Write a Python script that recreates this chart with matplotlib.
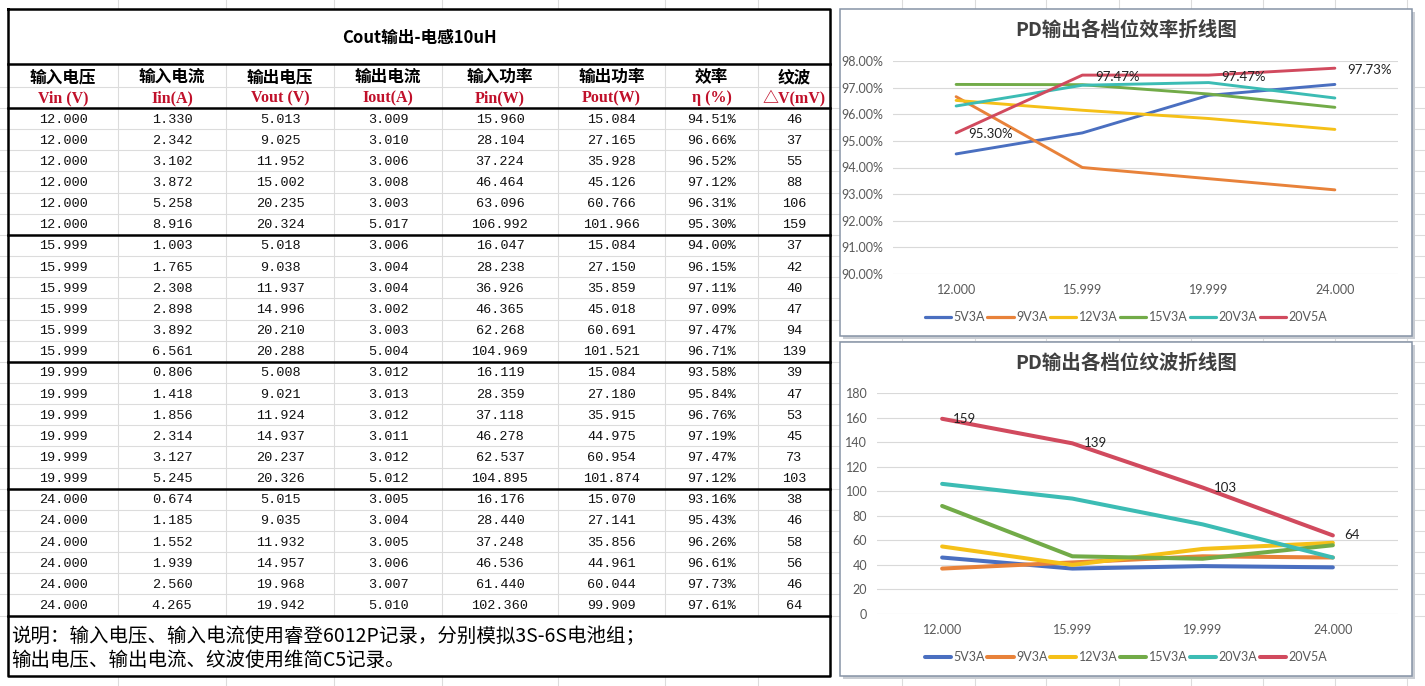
import matplotlib
matplotlib.use("Agg")
import matplotlib.pyplot as plt
from matplotlib.patches import Rectangle

plt.rcParams["font.family"] = ["Noto Sans CJK SC", "DejaVu Sans"]

# ---- table data ----
title = "Cout输出-电感10uH"
head_cn = ["输入电压", "输入电流", "输出电压", "输出电流", "输入功率", "输出功率", "效率", "纹波"]
head_en = ["Vin (V)", "Iin(A)", "Vout (V)", "Iout(A)", "Pin(W)", "Pout(W)", "η (%)", "△V(mV)"]

vin = [12.000, 12.000, 12.000, 12.000, 12.000, 12.000,
       15.999, 15.999, 15.999, 15.999, 15.999, 15.999,
       19.999, 19.999, 19.999, 19.999, 19.999, 19.999,
       24.000, 24.000, 24.000, 24.000, 24.000, 24.000]
iin = [1.330, 2.342, 3.102, 3.872, 5.258, 8.916,
       1.003, 1.765, 2.308, 2.898, 3.892, 6.561,
       0.806, 1.418, 1.856, 2.314, 3.127, 5.245,
       0.674, 1.185, 1.552, 1.939, 2.560, 4.265]
vout = [5.013, 9.025, 11.952, 15.002, 20.235, 20.324,
        5.018, 9.038, 11.937, 14.996, 20.210, 20.288,
        5.008, 9.021, 11.924, 14.937, 20.237, 20.326,
        5.015, 9.035, 11.932, 14.957, 19.968, 19.942]
iout = [3.009, 3.010, 3.006, 3.008, 3.003, 5.017,
        3.006, 3.004, 3.004, 3.002, 3.003, 5.004,
        3.012, 3.013, 3.012, 3.011, 3.012, 5.012,
        3.005, 3.004, 3.005, 3.006, 3.007, 5.010]
pin = [15.960, 28.104, 37.224, 46.464, 63.096, 106.992,
       16.047, 28.238, 36.926, 46.365, 62.268, 104.969,
       16.119, 28.359, 37.118, 46.278, 62.537, 104.895,
       16.176, 28.440, 37.248, 46.536, 61.440, 102.360]
pout = [15.084, 27.165, 35.928, 45.126, 60.766, 101.966,
        15.084, 27.150, 35.859, 45.018, 60.691, 101.521,
        15.084, 27.180, 35.915, 44.975, 60.954, 101.874,
        15.070, 27.141, 35.856, 44.961, 60.044, 99.909]
eff = [94.51, 96.66, 96.52, 97.12, 96.31, 95.30,
       94.00, 96.15, 97.11, 97.09, 97.47, 96.71,
       93.58, 95.84, 96.76, 97.19, 97.47, 97.12,
       93.16, 95.43, 96.26, 96.61, 97.73, 97.61]
ripple = [46, 37, 55, 88, 106, 159,
          37, 42, 40, 47, 94, 139,
          39, 47, 53, 45, 73, 103,
          38, 46, 58, 56, 46, 64]
note = ["说明：输入电压、输入电流使用睿登6012P记录，分别模拟3S-6S电池组；",
        "输出电压、输出电流、纹波使用维简C5记录。"]

# ---- chart data (as plotted) ----
categories = ["12.000", "15.999", "19.999", "24.000"]
series_names = ["5V3A", "9V3A", "12V3A", "15V3A", "20V3A", "20V5A"]
eff_series = [
    [94.51, 95.30, 96.71, 97.12],
    [96.66, 94.00, 93.58, 93.16],
    [96.52, 96.15, 95.84, 95.43],
    [97.12, 97.11, 96.76, 96.26],
    [96.31, 97.09, 97.19, 96.61],
    [95.30, 97.47, 97.47, 97.73],
]
ripple_series = [
    [46, 37, 39, 38],
    [37, 42, 47, 46],
    [55, 40, 53, 58],
    [88, 47, 45, 56],
    [106, 94, 73, 46],
    [159, 139, 103, 64],
]
colors = ["#4a6fc0", "#e8823a", "#f5c018", "#72ab48", "#3cbcb4", "#d14a5e"]

W, H = 1425, 686
fig = plt.figure(figsize=(W / 100, H / 100), dpi=100)
bg = fig.add_axes([0, 0, 1, 1])
bg.set_xlim(0, W)
bg.set_ylim(H, 0)
bg.axis("off")

# table geometry (pixels)
col_edges = [8, 118, 226, 334, 442, 558, 665, 758, 830]
top, title_bot, head_bot = 9, 64, 108
row_h = 21.15
n_rows = len(vin)
table_bot = head_bot + n_rows * row_h
note_bot = 676
grid_c = "#dcdcdc"

# spreadsheet grid behind everything
for i in range(n_rows + 1):
    y = head_bot + i * row_h
    bg.plot([0, W], [y, y], color=grid_c, lw=0.8, zorder=0)
bg.plot([0, W], [87, 87], color=grid_c, lw=0.8, zorder=0)
for x in col_edges[1:-1]:
    bg.plot([x, x], [0, top], color=grid_c, lw=0.8, zorder=0)
    bg.plot([x, x], [title_bot, table_bot], color=grid_c, lw=0.8, zorder=0)
    bg.plot([x, x], [note_bot, H], color=grid_c, lw=0.8, zorder=0)
for x in [902, 975, 1046, 1119, 1191, 1263, 1335, 1407]:
    bg.plot([x, x], [0, H], color=grid_c, lw=0.8, zorder=0)
# white out merged title and note cells
bg.add_patch(Rectangle((col_edges[0], top), col_edges[-1] - col_edges[0], title_bot - top,
                       facecolor="white", edgecolor="none", zorder=0.5))
bg.add_patch(Rectangle((col_edges[0], table_bot), col_edges[-1] - col_edges[0], note_bot - table_bot,
                       facecolor="white", edgecolor="none", zorder=0.5))

# heavy borders
bk = dict(color="black", lw=1.8, zorder=3, solid_capstyle="projecting")
bg.plot([col_edges[0], col_edges[-1], col_edges[-1], col_edges[0], col_edges[0]],
        [top, top, note_bot, note_bot, top], **bk)
for y in [title_bot, head_bot] + [head_bot + g * 6 * row_h for g in range(1, 5)]:
    bg.plot([col_edges[0], col_edges[-1]], [y, y], **bk)

# title + headers
bg.text((col_edges[0] + col_edges[-1]) / 2, 38, title, ha="center", va="center",
        fontsize=12, fontweight="bold", zorder=4)
centers = [(a + b) / 2 for a, b in zip(col_edges[:-1], col_edges[1:])]
for cx, cn, en in zip(centers, head_cn, head_en):
    bg.text(cx, 77, cn, ha="center", va="center", fontsize=12, fontweight="bold", zorder=4)
    bg.text(cx, 98, en, ha="center", va="center", fontsize=11.5, fontweight="bold",
            color="#c0102a", family=["Liberation Serif", "Noto Sans CJK SC"], zorder=4)

# data cells
mono = ["Liberation Mono", "DejaVu Sans Mono"]
for i in range(n_rows):
    y = head_bot + (i + 0.5) * row_h + 1
    cells = [f"{vin[i]:.3f}", f"{iin[i]:.3f}", f"{vout[i]:.3f}", f"{iout[i]:.3f}",
             f"{pin[i]:.3f}", f"{pout[i]:.3f}", f"{eff[i]:.2f}%", f"{ripple[i]}"]
    for cx, s in zip(centers, cells):
        bg.text(cx, y, s, ha="center", va="center", fontsize=9.7, family=mono,
                color="#111111", zorder=4)

bg.text(11, 636, note[0], ha="left", va="center", fontsize=14, zorder=4)
bg.text(11, 660, note[1], ha="left", va="center", fontsize=14, zorder=4)

# chart boxes
for (x0, y0, x1, y1) in [(840.5, 9, 1412.5, 336), (840.5, 342, 1412.5, 676)]:
    bg.add_patch(Rectangle((x0 + 2.5, y0 + 2.5), x1 - x0, y1 - y0, facecolor="#c9cdd3",
                           edgecolor="none", zorder=5))
    bg.add_patch(Rectangle((x0, y0), x1 - x0, y1 - y0, facecolor="white",
                           edgecolor="#8693a6", lw=1.1, zorder=6))
bg.text(1126, 30, "PD输出各档位效率折线图", ha="center", va="center", fontsize=14,
        fontweight="bold", color="#404040", zorder=7)
bg.text(1126, 363, "PD输出各档位纹波折线图", ha="center", va="center", fontsize=14,
        fontweight="bold", color="#404040", zorder=7)

lat = ["Lato", "DejaVu Sans"]
tick_c = "#595959"


def px_axes(x0, y0, x1, y1):
    return fig.add_axes([x0 / W, 1 - y1 / H, (x1 - x0) / W, (y1 - y0) / H])


def style(ax, ymin, ymax, step, fmt, legend_y, lw):
    ax.set_facecolor("none")
    ax.set_xlim(-0.5, len(categories) - 0.5)
    ax.set_ylim(ymin, ymax)
    ticks = list(range(ymin, ymax + 1, step))
    ax.set_yticks(ticks)
    ax.set_yticklabels([fmt(t) for t in ticks], family=lat, fontsize=9, color=tick_c)
    ax.set_xticks(range(len(categories)))
    ax.set_xticklabels(categories, family=lat, fontsize=9, color=tick_c)
    ax.tick_params(length=0, pad=7)
    for s in ax.spines.values():
        s.set_visible(False)
    ax.grid(axis="y", color="#d9d9d9", lw=0.8)
    ax.set_axisbelow(True)
    leg = ax.legend(loc="center", bbox_to_anchor=(1126 / W, 1 - legend_y / H),
                    bbox_transform=fig.transFigure, ncol=6, frameon=False,
                    handlelength=2.1, handletextpad=0.2, columnspacing=0.2,
                    prop={"family": lat, "size": 9})
    for t in leg.get_texts():
        t.set_color(tick_c)
    for h in leg.get_lines():
        h.set_linewidth(lw)


ax1 = px_axes(893, 61, 1398, 274)
ax1.set_zorder(8)
for name, vals, c in zip(series_names, eff_series, colors):
    ax1.plot(range(len(categories)), vals, color=c, lw=2.1, label=name,
             solid_capstyle="round", solid_joinstyle="round")
for i, v in enumerate(eff_series[-1]):
    ax1.annotate(f"{v:.2f}%", (i, v), xytext=(9, -1), textcoords="offset points",
                 ha="left", va="center", fontsize=9.5, family=lat, color="#222222")
style(ax1, 90, 98, 1, lambda t: f"{t:.2f}%", 317, 2.3)

ax2 = px_axes(877, 393, 1398, 614)
ax2.set_zorder(8)
for name, vals, c in zip(series_names, ripple_series, colors):
    ax2.plot(range(len(categories)), vals, color=c, lw=2.9, label=name,
             solid_capstyle="round", solid_joinstyle="round")
for i, v in enumerate(ripple_series[-1]):
    ax2.annotate(f"{v}", (i, v), xytext=(8, 0), textcoords="offset points",
                 ha="left", va="center", fontsize=9.5, family=lat, color="#222222")
style(ax2, 0, 180, 20, lambda t: f"{t}", 657, 2.9)

fig.savefig("out.png", dpi=100)
